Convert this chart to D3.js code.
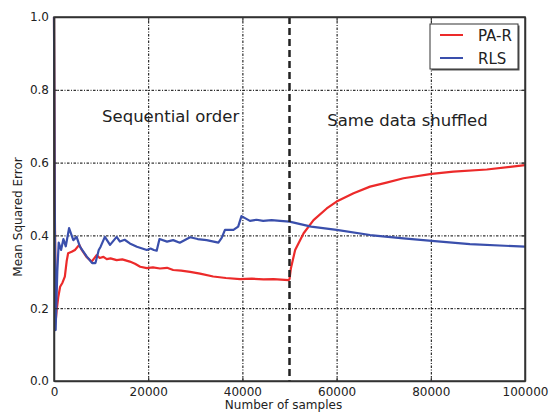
<!DOCTYPE html>
<html>
<head>
<meta charset="utf-8">
<style>
body { margin:0; background:#fff; }
svg text { font-family: "DejaVu Sans", sans-serif; fill:#222; }
.grid line { stroke:#000; stroke-width:1; stroke-dasharray:2.5,1.5,1,1.5; }
.grid path { display:none; }
.axis path, .axis line { stroke:#333; }
</style>
</head>
<body>
<svg id="chart" width="551" height="413"></svg>
<script src="https://d3js.org/d3.v7.min.js"></script>
<script>

// PA-R series: [samples, error]
let parData = [
  [0,1.0],[150,0.5],[400,0.17],[570,0.195],[900,0.23],[1300,0.259],[1800,0.27],[2300,0.287],
  [2700,0.33],[3000,0.351],[3750,0.355],[4450,0.36],[5350,0.374],[5900,0.36],[6900,0.341],
  [8000,0.328],[9050,0.346],[9700,0.338],[10500,0.341],[11200,0.335],[12000,0.337],
  [13300,0.332],[14500,0.334],[16100,0.328],[17200,0.322],[18300,0.314],[19700,0.31],
  [21000,0.312],[22500,0.309],[24000,0.311],[25300,0.305],[27000,0.303],[28900,0.3],
  [31000,0.295],[33800,0.287],[36500,0.283],[39500,0.28],[42000,0.281],[44500,0.279],
  [46600,0.28],[49800,0.277],[50000,0.28],[50300,0.31],[51200,0.36],
  [53000,0.406],[55100,0.442],[57900,0.474],[60000,0.493],[63600,0.516],[67100,0.534],
  [70600,0.545],[74200,0.557],[80200,0.569],[84800,0.575],[91900,0.581],[100000,0.593]
];

// RLS series: [samples, error]
let rlsData = [
  [0,1.0],[150,0.5],[350,0.14],[700,0.3],[1000,0.38],[1500,0.36],[2000,0.39],[2500,0.37],
  [3200,0.42],[4100,0.387],[4800,0.396],[5500,0.369],[7000,0.341],[8100,0.324],[8800,0.324],
  [9500,0.36],[9900,0.369],[10800,0.396],[11900,0.374],[13300,0.396],[14000,0.383],
  [15000,0.388],[16100,0.378],[17600,0.369],[19700,0.36],[20500,0.364],[21200,0.36],
  [21800,0.358],[22400,0.39],[24000,0.383],[25300,0.387],[26700,0.38],[28900,0.395],
  [30500,0.39],[32400,0.387],[34900,0.38],[35600,0.393],[36300,0.415],[38100,0.415],
  [39100,0.424],[39800,0.453],[41600,0.44],[43000,0.443],[44400,0.44],[46200,0.442],
  [48000,0.44],[50000,0.438],[54600,0.424],[60000,0.415],[67100,0.401],[74200,0.392],
  [80200,0.385],[88300,0.376],[100000,0.369]
];

let xTicks = [0, 20000, 40000, 60000, 80000, 100000];
let yTicks = [0.0, 0.2, 0.4, 0.6, 0.8, 1.0];
let seriesNames = ["PA-R", "RLS"];
let seriesColors = ["#ec2a2a", "#3a4fac"];
let splitAt = [50000];
let notes = [["Sequential order", 10200, 0.711], ["Same data shuffled", 58000, 0.70]];

let margin = {top: 17, right: 26, bottom: 32, left: 54},
    width = 551 - margin.left - margin.right,
    height = 413 - margin.top - margin.bottom;

let x = d3.scaleLinear().domain([0, 100000]).range([0, width]),
    y = d3.scaleLinear().domain([0, 1]).range([height, 0]);

let svg = d3.select("#chart");
let g = svg.append("g")
    .attr("transform", "translate(" + margin.left + "," + margin.top + ")");

// grid
g.append("g")
    .attr("class", "grid")
    .attr("transform", "translate(0," + height + ")")
    .call(d3.axisBottom(x).tickValues(xTicks.slice(1, -1)).tickSize(-height).tickFormat(""));
g.append("g")
    .attr("class", "grid")
    .call(d3.axisLeft(y).tickValues(yTicks.slice(1, -1)).tickSize(-width).tickFormat(""));

// lines
let line = d3.line()
    .x(function(d) { return x(d[0]); })
    .y(function(d) { return y(d[1]); });

[parData, rlsData].forEach(function(data, i) {
  g.append("path")
    .datum(data)
    .attr("fill", "none")
    .attr("stroke", seriesColors[i])
    .attr("stroke-width", 2.2)
    .attr("stroke-linejoin", "round")
    .attr("d", line);
});

// split marker
g.selectAll(".split")
  .data(splitAt)
  .enter().append("line")
    .attr("x1", function(d) { return x(d); })
    .attr("x2", function(d) { return x(d); })
    .attr("y1", 0)
    .attr("y2", height)
    .attr("stroke", "#222")
    .attr("stroke-width", 2.5)
    .attr("stroke-dasharray", "7,4");

// annotations
g.selectAll(".note")
  .data(notes)
  .enter().append("text")
    .attr("x", function(d) { return x(d[1]); })
    .attr("y", function(d) { return y(d[2]); })
    .attr("font-size", 16.5)
    .text(function(d) { return d[0]; });

// axes
g.append("g")
    .attr("class", "axis")
    .attr("transform", "translate(0," + height + ")")
    .call(d3.axisBottom(x).tickValues(xTicks).tickSizeInner(-4).tickSizeOuter(0).tickPadding(6).tickFormat(d3.format("d")));
g.append("g")
    .attr("class", "axis")
    .call(d3.axisLeft(y).tickValues(yTicks).tickSizeInner(-4).tickSizeOuter(0).tickPadding(5).tickFormat(d3.format(".1f")));
g.append("g")
    .attr("class", "axis")
    .call(d3.axisTop(x).tickValues(xTicks).tickSizeInner(-4).tickSizeOuter(0).tickFormat(""));
g.append("g")
    .attr("class", "axis")
    .attr("transform", "translate(" + width + ",0)")
    .call(d3.axisRight(y).tickValues(yTicks).tickSizeInner(-4).tickSizeOuter(0).tickFormat(""));

g.selectAll(".axis text").attr("font-size", 12).attr("font-family", "DejaVu Sans");
g.selectAll(".axis path").attr("stroke-width", 1.5);

g.append("rect")
    .attr("width", width)
    .attr("height", height)
    .attr("fill", "none")
    .attr("stroke", "#333")
    .attr("stroke-width", 1.5);

// axis labels
svg.append("text")
    .attr("x", margin.left + width / 2 - 6)
    .attr("y", 409)
    .attr("text-anchor", "middle")
    .attr("font-size", 12)
    .text("Number of samples");
svg.append("text")
    .attr("transform", "translate(22," + (margin.top + height / 2 + 18) + ") rotate(-90)")
    .attr("text-anchor", "middle")
    .attr("font-size", 12)
    .text("Mean Squared Error");

// legend
let legend = svg.append("g").attr("transform", "translate(430,24)");
legend.append("rect")
    .attr("x", 1.5).attr("y", 1.5)
    .attr("width", 88).attr("height", 45)
    .attr("fill", "#555");
legend.append("rect")
    .attr("width", 88).attr("height", 45)
    .attr("fill", "#fff")
    .attr("stroke", "#333")
    .attr("stroke-width", 1);
seriesNames.forEach(function(name, i) {
  legend.append("line")
    .attr("x1", 10).attr("x2", 33)
    .attr("y1", 11 + i * 23).attr("y2", 11 + i * 23)
    .attr("stroke", seriesColors[i])
    .attr("stroke-width", 2);
  legend.append("text")
    .attr("x", 48)
    .attr("y", 16.5 + i * 23)
    .attr("font-size", 15)
    .text(name);
});

</script>
</body>
</html>
